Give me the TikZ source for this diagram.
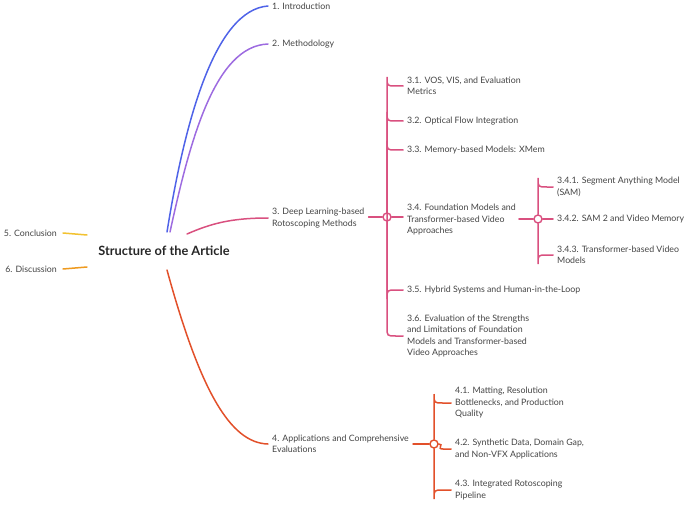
\documentclass[tikz,border=0pt]{standalone}
\usepackage{fontspec}
\setmainfont{Lato}
\definecolor{cblue}{HTML}{4F63E8}
\definecolor{cpurp}{HTML}{9D6BE0}
\definecolor{cpink}{HTML}{D9507F}
\definecolor{cred}{HTML}{E2502A}
\definecolor{cyel}{HTML}{F2C230}
\definecolor{cora}{HTML}{EE9A1F}
\definecolor{ctxt}{HTML}{444444}
\begin{document}
\begin{tikzpicture}[x=1pt,y=-1pt,
  lf/.style={anchor=west,align=left,inner sep=0pt,text=ctxt,font=\fontsize{8.8}{11.5}\selectfont},
  br/.style={line width=1.5pt,line cap=round},
  dot/.style={circle,draw,line width=1.4pt,fill=white,inner sep=0pt,minimum size=8pt}]
\useasboundingbox (0,0) rectangle (695,505);
\node[inner sep=0pt,text=black!85,font=\bfseries\fontsize{12.8}{14}\selectfont] (root) at (164,251) {Structure of the Article};
\node[lf] (n1) at (272,6) {1. Introduction};
\node[lf] (n2) at (272,44) {2. Methodology};
\node[lf] (n3) at (272,218) {3. Deep Learning-based\\Rotoscoping Methods};
\node[lf] (n4) at (272,444) {4. Applications and Comprehensive\\Evaluations};
\node[lf,anchor=east] (n5) at (57,233) {5. Conclusion};
\node[lf,anchor=east] (n6) at (57,269) {6. Discussion};
\coordinate (r1) at (167,232);\coordinate (r2) at (170,232);
\coordinate (r3) at (187,234);\coordinate (r4) at (167,270);
\coordinate (r5) at (87,235);\coordinate (r6) at (87,267);
\draw[br,cblue] (r1) .. controls (185,120) and (215,10) .. ([xshift=-4pt]n1.west);
\draw[br,cpurp] (r2) .. controls (190,140) and (215,46) .. ([xshift=-4pt]n2.west);
\draw[br,cpink] (r3) .. controls (210,224) and (230,218) .. ([xshift=-4pt]n3.west);
\draw[br,cred] (r4) .. controls (200,390) and (230,443) .. ([xshift=-4pt]n4.west);
\draw[br,cyel] ([xshift=6pt]n5.east) -- (r5);
\draw[br,cora] ([xshift=6pt]n6.east) -- (r6);
% level 3
\node[dot,draw=cpink] (c3) at (387,217) {};
\draw[br,cpink] ([xshift=4pt]n3.east|-c3) -- (c3.west);
\node[lf] (a1) at (407,86) {3.1. VOS, VIS, and Evaluation\\Metrics};
\node[lf] (a2) at (407,121) {3.2. Optical Flow Integration};
\node[lf] (a3) at (407,150) {3.3. Memory-based Models: XMem};
\node[lf] (a4) at (407,220) {3.4. Foundation Models and\\Transformer-based Video\\Approaches};
\node[lf] (a5) at (407,290) {3.5. Hybrid Systems and Human-in-the-Loop};
\node[lf] (a6) at (407,336) {3.6. Evaluation of the Strengths\\and Limitations of Foundation\\Models and Transformer-based\\Video Approaches};
\foreach \n in {a1,a2,a3,a6}{
  \draw[br,cpink] (c3.north) -- ([yshift=9pt]c3.center|-\n.west) .. controls (c3.center|-\n.west) .. ([xshift=9pt]c3.center|-\n.west) -- ([xshift=-4pt]\n.west);}
\foreach \n in {a5}{
  \draw[br,cpink] (c3.south) -- ([yshift=-9pt]c3.center|-\n.west) .. controls (c3.center|-\n.west) .. ([xshift=9pt]c3.center|-\n.west) -- ([xshift=-4pt]\n.west);}
\draw[br,cpink] (c3.east) -- ([xshift=-4pt]a4.west|-c3);
% level 3.4
\node[dot,draw=cpink] (c34) at (538,219) {};
\draw[br,cpink] ([xshift=3pt]a4.east|-c34) -- (c34.west);
\node[lf] (b1) at (557,187) {3.4.1. Segment Anything Model\\(SAM)};
\node[lf] (b2) at (557,219) {3.4.2. SAM 2 and Video Memory};
\node[lf] (b3) at (557,255) {3.4.3. Transformer-based Video\\Models};
\draw[br,cpink] (c34.north) -- ([yshift=9pt]c34.center|-b1.west) .. controls (c34.center|-b1.west) .. ([xshift=9pt]c34.center|-b1.west) -- ([xshift=-4pt]b1.west);
\draw[br,cpink] (c34.south) -- ([yshift=-9pt]c34.center|-b3.west) .. controls (c34.center|-b3.west) .. ([xshift=9pt]c34.center|-b3.west) -- ([xshift=-4pt]b3.west);
\draw[br,cpink] (c34.east) -- ([xshift=-4pt]b2.west);
% level 4
\node[dot,draw=cred] (c4) at (434,444) {};
\draw[br,cred] ([xshift=4pt]n4.east|-c4) -- (c4.west);
\node[lf] (d1) at (455,403) {4.1. Matting, Resolution\\Bottlenecks, and Production\\Quality};
\node[lf] (d2) at (455,449) {4.2. Synthetic Data, Domain Gap,\\and Non-VFX Applications};
\node[lf] (d3) at (455,490) {4.3. Integrated Rotoscoping\\Pipeline};
\draw[br,cred] (c4.north) -- ([yshift=9pt]c4.center|-d1.west) .. controls (c4.center|-d1.west) .. ([xshift=9pt]c4.center|-d1.west) -- ([xshift=-4pt]d1.west);
\draw[br,cred] (c4.south) -- ([yshift=-9pt]c4.center|-d3.west) .. controls (c4.center|-d3.west) .. ([xshift=9pt]c4.center|-d3.west) -- ([xshift=-4pt]d3.west);
\draw[br,cred] (c4.east) .. controls ([xshift=6pt]c4.east) and ([xshift=2pt]c4.center|-d2.west) .. ([xshift=9pt]c4.center|-d2.west) -- ([xshift=-4pt]d2.west);
\end{tikzpicture}
\end{document}
